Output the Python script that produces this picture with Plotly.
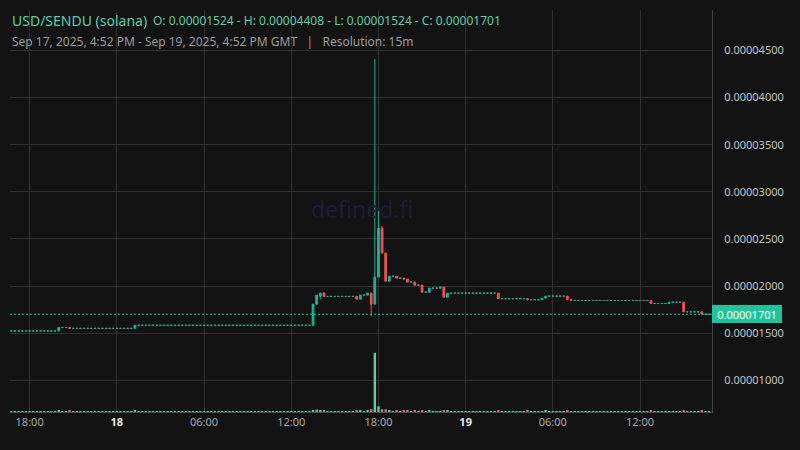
import pandas as pd
import plotly.graph_objects as go

# ---------------- data ----------------
# 15-minute candles, Sep 17 2025 16:45 GMT -> Sep 19 2025 16:45 GMT (193 bars)
times = pd.date_range("2025-09-17 16:45", "2025-09-19 16:45", freq="15min")

opens = [
    1.524e-5, 1.524e-5, 1.524e-5, 1.524e-5, 1.524e-5, 1.524e-5, 1.524e-5,
    1.524e-5, 1.524e-5, 1.524e-5, 1.524e-5, 1.524e-5, 1.524e-5, 1.524e-5,
    1.560e-5, 1.560e-5, 1.560e-5,
    1.551e-5, 1.551e-5, 1.551e-5, 1.551e-5, 1.551e-5, 1.551e-5, 1.551e-5, 1.551e-5, 1.551e-5,
    1.551e-5, 1.551e-5, 1.551e-5, 1.551e-5, 1.551e-5, 1.551e-5, 1.551e-5, 1.551e-5, 1.551e-5,
    1.584e-5, 1.584e-5, 1.584e-5, 1.584e-5, 1.584e-5, 1.584e-5, 1.584e-5,
    1.584e-5, 1.584e-5, 1.584e-5, 1.584e-5, 1.584e-5, 1.584e-5, 1.584e-5,
    1.584e-5, 1.584e-5, 1.584e-5, 1.584e-5, 1.584e-5, 1.584e-5, 1.584e-5,
    1.584e-5, 1.584e-5, 1.584e-5, 1.584e-5, 1.584e-5, 1.584e-5, 1.584e-5,
    1.584e-5, 1.584e-5, 1.584e-5, 1.584e-5, 1.584e-5, 1.584e-5, 1.584e-5,
    1.584e-5, 1.584e-5, 1.584e-5, 1.584e-5, 1.584e-5, 1.584e-5, 1.584e-5,
    1.584e-5, 1.584e-5, 1.584e-5, 1.584e-5, 1.584e-5, 1.584e-5, 1.584e-5,
    1.808e-5, 1.893e-5, 1.925e-5,
    1.890e-5, 1.890e-5, 1.890e-5, 1.890e-5, 1.890e-5, 1.890e-5, 1.890e-5, 1.890e-5, 1.890e-5,
    1.861e-5, 1.904e-5, 1.904e-5, 1.925e-5, 1.808e-5, 2.095e-5, 2.615e-5, 2.350e-5,
    2.052e-5, 2.105e-5, 2.105e-5, 2.084e-5, 2.084e-5, 2.074e-5, 2.042e-5, 2.042e-5,
    2.010e-5, 2.010e-5, 1.935e-5, 1.935e-5, 1.978e-5, 1.978e-5, 1.978e-5, 1.989e-5,
    1.882e-5,
    1.925e-5, 1.925e-5, 1.925e-5, 1.925e-5, 1.925e-5, 1.925e-5, 1.925e-5,
    1.925e-5, 1.925e-5, 1.925e-5, 1.925e-5, 1.925e-5, 1.925e-5, 1.925e-5,
    1.866e-5, 1.866e-5, 1.866e-5, 1.866e-5, 1.866e-5, 1.866e-5, 1.866e-5, 1.866e-5,
    1.855e-5, 1.855e-5, 1.855e-5, 1.855e-5,
    1.872e-5,
    1.893e-5, 1.893e-5, 1.893e-5, 1.893e-5, 1.893e-5, 1.893e-5,
    1.857e-5,
    1.847e-5, 1.847e-5, 1.847e-5, 1.847e-5, 1.847e-5, 1.847e-5, 1.847e-5, 1.847e-5, 1.847e-5, 1.847e-5, 1.847e-5,
    1.847e-5, 1.847e-5, 1.847e-5, 1.847e-5, 1.847e-5, 1.847e-5, 1.847e-5, 1.847e-5, 1.847e-5, 1.847e-5, 1.847e-5,
    1.815e-5, 1.815e-5, 1.815e-5, 1.815e-5, 1.815e-5,
    1.829e-5, 1.829e-5, 1.829e-5, 1.829e-5,
    1.727e-5, 1.727e-5, 1.727e-5, 1.727e-5, 1.727e-5,
    1.701e-5, 1.701e-5,
]

highs = [
    1.524e-5, 1.524e-5, 1.524e-5, 1.524e-5, 1.524e-5, 1.524e-5, 1.524e-5,
    1.524e-5, 1.524e-5, 1.524e-5, 1.524e-5, 1.524e-5, 1.524e-5,
    1.560e-5,
    1.560e-5, 1.560e-5, 1.560e-5,
    1.551e-5, 1.551e-5, 1.551e-5, 1.551e-5, 1.551e-5, 1.551e-5, 1.551e-5, 1.551e-5, 1.551e-5,
    1.551e-5, 1.551e-5, 1.551e-5, 1.551e-5, 1.551e-5, 1.551e-5, 1.551e-5, 1.551e-5,
    1.584e-5,
    1.584e-5, 1.584e-5, 1.584e-5, 1.584e-5, 1.584e-5, 1.584e-5, 1.584e-5, 1.584e-5,
    1.584e-5, 1.584e-5, 1.584e-5, 1.584e-5, 1.584e-5, 1.584e-5, 1.584e-5, 1.584e-5,
    1.584e-5, 1.584e-5, 1.584e-5, 1.584e-5, 1.584e-5, 1.584e-5, 1.584e-5, 1.584e-5,
    1.584e-5, 1.584e-5, 1.584e-5, 1.584e-5, 1.584e-5, 1.584e-5, 1.584e-5, 1.584e-5,
    1.584e-5, 1.584e-5, 1.584e-5, 1.584e-5, 1.584e-5, 1.584e-5, 1.584e-5, 1.584e-5,
    1.584e-5, 1.584e-5, 1.584e-5, 1.584e-5, 1.584e-5, 1.584e-5, 1.584e-5, 1.584e-5,
    1.808e-5, 1.904e-5, 1.925e-5, 1.935e-5,
    1.890e-5, 1.890e-5, 1.890e-5, 1.890e-5, 1.890e-5, 1.890e-5, 1.890e-5, 1.890e-5, 1.890e-5,
    1.904e-5, 1.904e-5, 1.925e-5, 1.925e-5, 4.408e-5, 2.796e-5, 2.636e-5, 2.350e-5,
    2.105e-5, 2.105e-5, 2.105e-5, 2.084e-5, 2.084e-5, 2.074e-5, 2.042e-5, 2.042e-5,
    2.010e-5, 2.010e-5, 1.935e-5, 1.978e-5, 1.978e-5, 1.978e-5, 1.989e-5, 1.989e-5,
    1.925e-5,
    1.925e-5, 1.925e-5, 1.925e-5, 1.925e-5, 1.925e-5, 1.925e-5, 1.925e-5,
    1.925e-5, 1.925e-5, 1.925e-5, 1.925e-5, 1.925e-5, 1.925e-5, 1.925e-5,
    1.866e-5, 1.866e-5, 1.866e-5, 1.866e-5, 1.866e-5, 1.866e-5, 1.866e-5, 1.866e-5,
    1.855e-5, 1.855e-5, 1.855e-5,
    1.872e-5, 1.893e-5,
    1.893e-5, 1.893e-5, 1.893e-5, 1.893e-5, 1.893e-5, 1.893e-5,
    1.857e-5,
    1.847e-5, 1.847e-5, 1.847e-5, 1.847e-5, 1.847e-5, 1.847e-5, 1.847e-5, 1.847e-5, 1.847e-5, 1.847e-5, 1.847e-5,
    1.847e-5, 1.847e-5, 1.847e-5, 1.847e-5, 1.847e-5, 1.847e-5, 1.847e-5, 1.847e-5, 1.847e-5, 1.847e-5, 1.847e-5,
    1.815e-5, 1.815e-5, 1.815e-5, 1.815e-5,
    1.829e-5,
    1.829e-5, 1.829e-5, 1.829e-5, 1.829e-5,
    1.727e-5, 1.727e-5, 1.727e-5, 1.727e-5, 1.727e-5,
    1.701e-5, 1.701e-5,
]

lows = [
    1.524e-5, 1.524e-5, 1.524e-5, 1.524e-5, 1.524e-5, 1.524e-5, 1.524e-5,
    1.524e-5, 1.524e-5, 1.524e-5, 1.524e-5, 1.524e-5, 1.524e-5,
    1.524e-5,
    1.560e-5, 1.560e-5,
    1.551e-5,
    1.551e-5, 1.551e-5, 1.551e-5, 1.551e-5, 1.551e-5, 1.551e-5, 1.551e-5, 1.551e-5, 1.551e-5,
    1.551e-5, 1.551e-5, 1.551e-5, 1.551e-5, 1.551e-5, 1.551e-5, 1.551e-5, 1.551e-5,
    1.551e-5,
    1.584e-5, 1.584e-5, 1.584e-5, 1.584e-5, 1.584e-5, 1.584e-5, 1.584e-5, 1.584e-5,
    1.584e-5, 1.584e-5, 1.584e-5, 1.584e-5, 1.584e-5, 1.584e-5, 1.584e-5, 1.584e-5,
    1.584e-5, 1.584e-5, 1.584e-5, 1.584e-5, 1.584e-5, 1.584e-5, 1.584e-5, 1.584e-5,
    1.584e-5, 1.584e-5, 1.584e-5, 1.584e-5, 1.584e-5, 1.584e-5, 1.584e-5, 1.584e-5,
    1.584e-5, 1.584e-5, 1.584e-5, 1.584e-5, 1.584e-5, 1.584e-5, 1.584e-5, 1.584e-5,
    1.584e-5, 1.584e-5, 1.584e-5, 1.584e-5, 1.584e-5, 1.584e-5, 1.584e-5, 1.584e-5,
    1.584e-5, 1.808e-5, 1.861e-5, 1.890e-5,
    1.890e-5, 1.890e-5, 1.890e-5, 1.890e-5, 1.890e-5, 1.890e-5, 1.890e-5, 1.890e-5,
    1.861e-5, 1.861e-5, 1.904e-5, 1.904e-5, 1.680e-5, 1.808e-5, 2.095e-5, 2.350e-5,
    2.052e-5, 2.052e-5, 2.105e-5, 2.084e-5, 2.084e-5, 2.074e-5, 2.042e-5, 2.042e-5,
    1.999e-5, 2.010e-5, 1.935e-5, 1.935e-5, 1.935e-5, 1.978e-5, 1.978e-5, 1.978e-5,
    1.882e-5, 1.882e-5,
    1.925e-5, 1.925e-5, 1.925e-5, 1.925e-5, 1.925e-5, 1.925e-5, 1.925e-5,
    1.925e-5, 1.925e-5, 1.925e-5, 1.925e-5, 1.925e-5, 1.925e-5,
    1.866e-5,
    1.866e-5, 1.866e-5, 1.866e-5, 1.866e-5, 1.866e-5, 1.866e-5, 1.866e-5,
    1.855e-5,
    1.855e-5, 1.855e-5, 1.855e-5,
    1.855e-5, 1.872e-5,
    1.893e-5, 1.893e-5, 1.893e-5, 1.893e-5, 1.893e-5,
    1.857e-5, 1.840e-5,
    1.847e-5, 1.847e-5, 1.847e-5, 1.847e-5, 1.847e-5, 1.847e-5, 1.847e-5,
    1.847e-5, 1.847e-5, 1.847e-5, 1.847e-5, 1.847e-5, 1.847e-5, 1.847e-5,
    1.847e-5, 1.847e-5, 1.847e-5, 1.847e-5, 1.847e-5, 1.847e-5, 1.847e-5,
    1.815e-5,
    1.815e-5, 1.815e-5, 1.815e-5, 1.815e-5,
    1.815e-5,
    1.829e-5, 1.829e-5, 1.829e-5,
    1.727e-5,
    1.727e-5, 1.727e-5, 1.727e-5, 1.727e-5,
    1.701e-5,
    1.701e-5, 1.701e-5,
]

closes = [
    1.524e-5, 1.524e-5, 1.524e-5, 1.524e-5, 1.524e-5, 1.524e-5, 1.524e-5,
    1.524e-5, 1.524e-5, 1.524e-5, 1.524e-5, 1.524e-5, 1.524e-5,
    1.560e-5, 1.560e-5, 1.560e-5,
    1.551e-5, 1.551e-5, 1.551e-5, 1.551e-5, 1.551e-5, 1.551e-5, 1.551e-5, 1.551e-5, 1.551e-5,
    1.551e-5, 1.551e-5, 1.551e-5, 1.551e-5, 1.551e-5, 1.551e-5, 1.551e-5, 1.551e-5, 1.551e-5,
    1.584e-5, 1.584e-5, 1.584e-5, 1.584e-5, 1.584e-5, 1.584e-5, 1.584e-5,
    1.584e-5, 1.584e-5, 1.584e-5, 1.584e-5, 1.584e-5, 1.584e-5, 1.584e-5,
    1.584e-5, 1.584e-5, 1.584e-5, 1.584e-5, 1.584e-5, 1.584e-5, 1.584e-5,
    1.584e-5, 1.584e-5, 1.584e-5, 1.584e-5, 1.584e-5, 1.584e-5, 1.584e-5,
    1.584e-5, 1.584e-5, 1.584e-5, 1.584e-5, 1.584e-5, 1.584e-5, 1.584e-5,
    1.584e-5, 1.584e-5, 1.584e-5, 1.584e-5, 1.584e-5, 1.584e-5, 1.584e-5,
    1.584e-5, 1.584e-5, 1.584e-5, 1.584e-5, 1.584e-5, 1.584e-5, 1.584e-5,
    1.808e-5, 1.904e-5, 1.925e-5,
    1.890e-5, 1.890e-5, 1.890e-5, 1.890e-5, 1.890e-5, 1.890e-5, 1.890e-5, 1.890e-5, 1.890e-5,
    1.861e-5, 1.904e-5, 1.904e-5, 1.925e-5, 1.808e-5, 2.095e-5, 2.615e-5, 2.350e-5,
    2.052e-5, 2.105e-5, 2.105e-5, 2.084e-5, 2.084e-5, 2.074e-5, 2.042e-5, 2.042e-5,
    2.010e-5, 2.010e-5, 1.935e-5, 1.935e-5, 1.978e-5, 1.978e-5, 1.978e-5, 1.989e-5,
    1.882e-5,
    1.925e-5, 1.925e-5, 1.925e-5, 1.925e-5, 1.925e-5, 1.925e-5, 1.925e-5,
    1.925e-5, 1.925e-5, 1.925e-5, 1.925e-5, 1.925e-5, 1.925e-5, 1.925e-5,
    1.866e-5, 1.866e-5, 1.866e-5, 1.866e-5, 1.866e-5, 1.866e-5, 1.866e-5, 1.866e-5,
    1.855e-5, 1.855e-5, 1.855e-5, 1.855e-5,
    1.872e-5,
    1.893e-5, 1.893e-5, 1.893e-5, 1.893e-5, 1.893e-5, 1.893e-5,
    1.857e-5,
    1.847e-5, 1.847e-5, 1.847e-5, 1.847e-5, 1.847e-5, 1.847e-5, 1.847e-5, 1.847e-5, 1.847e-5, 1.847e-5, 1.847e-5,
    1.847e-5, 1.847e-5, 1.847e-5, 1.847e-5, 1.847e-5, 1.847e-5, 1.847e-5, 1.847e-5, 1.847e-5, 1.847e-5, 1.847e-5,
    1.815e-5, 1.815e-5, 1.815e-5, 1.815e-5, 1.815e-5,
    1.829e-5, 1.829e-5, 1.829e-5, 1.829e-5,
    1.727e-5, 1.727e-5, 1.727e-5, 1.727e-5, 1.727e-5,
    1.701e-5, 1.701e-5, 1.701e-5,
]

volumes = [
    1.6, 1.6, 1.6, 1.6, 1.6, 1.6, 1.6, 1.6, 1.6, 1.6, 1.6, 1.6, 1.6,
    2.6, 1.6, 1.6, 1.8,
    1.6, 1.6, 1.6, 1.6, 1.6, 1.6, 1.6, 1.6, 1.6, 1.6, 1.6, 1.6, 1.6, 1.6, 1.6, 1.6, 1.6,
    2.2,
    1.6, 1.6, 1.6, 1.6, 1.6, 1.6, 1.6, 1.6, 1.6, 1.6, 1.6, 1.6,
    1.6, 1.6, 1.6, 1.6, 1.6, 1.6, 1.6, 1.6, 1.6, 1.6, 1.6, 1.6,
    1.6, 1.6, 1.6, 1.6, 1.6, 1.6, 1.6, 1.6, 1.6, 1.6, 1.6, 1.6,
    1.6, 1.6, 1.6, 1.6, 1.6, 1.6, 1.6, 1.6, 1.6, 1.6, 1.6, 1.6,
    3.4, 4.2, 3.6, 1.8,
    1.6, 1.6, 1.6, 1.6, 1.6, 1.6, 1.6, 1.6,
    1.8, 1.8, 1.6, 1.8, 4.6, 100.0, 9.6, 4.6, 4.6,
    1.8, 1.6, 1.8, 1.6, 1.8, 1.8, 1.6, 1.8, 1.6, 2.0, 1.6, 1.8, 1.6, 1.6, 1.6, 3.4, 1.8,
    1.6, 1.6, 1.6, 1.6, 1.6, 1.6, 1.6, 1.6, 1.6, 1.6, 1.6, 1.6, 1.6,
    1.8, 1.6, 1.6, 1.6, 1.6, 1.6, 1.6, 1.6,
    1.8, 1.6, 1.6, 1.6,
    1.6, 1.8, 1.6, 1.6, 1.6, 1.6, 1.6,
    1.8, 1.6,
    1.6, 1.6, 1.6, 1.6, 1.6, 1.6, 1.6, 1.6, 1.6, 1.6, 1.6,
    1.6, 1.6, 1.6, 1.6, 1.6, 1.6, 1.6, 1.6, 1.6, 1.6,
    1.8, 1.6, 1.6, 1.6, 1.6,
    1.6, 1.6, 1.6, 1.6,
    1.8, 1.6, 1.6, 1.6, 1.6,
    1.8, 1.6, 1.6,
]

for name, arr in [("opens", opens), ("highs", highs), ("lows", lows),
                  ("closes", closes), ("volumes", volumes)]:
    assert len(arr) == len(times), (name, len(arr), len(times))

price_ticks = [1.0e-5, 1.5e-5, 2.0e-5, 2.5e-5, 3.0e-5, 3.5e-5, 4.0e-5, 4.5e-5]
time_ticks = ["2025-09-17 18:00", "2025-09-18 00:00", "2025-09-18 06:00", "2025-09-18 12:00",
              "2025-09-18 18:00", "2025-09-19 00:00", "2025-09-19 06:00", "2025-09-19 12:00"]
time_tick_text = ["18:00", "<span style='color:#e8e8e8'><b>18</b></span>", "06:00", "12:00",
                  "18:00", "<span style='color:#e8e8e8'><b>19</b></span>", "06:00", "12:00"]
last_price = closes[-1]

# ---------------- style ----------------
BG = "#131313"
GRID = "#303030"
TEAL = "#1fb394"
RED = "#ef5358"
VOL_TEAL = "#52d3ab"
VOL_RED = "#e0717c"
FONT = "Noto Sans"

flat_idx = [i for i in range(len(times)) if opens[i] == closes[i]]
move_idx = [i for i in range(len(times)) if opens[i] != closes[i]]

def pick(arr, idx):
    return [arr[i] for i in idx]

vol_colors = [VOL_TEAL if closes[i] >= opens[i] else VOL_RED for i in range(len(times))]

fig = go.Figure()
fig.add_trace(go.Bar(x=times, y=volumes, yaxis="y2", marker=dict(color=vol_colors, line=dict(width=0)),
                     showlegend=False, hoverinfo="skip"))
fig.add_trace(go.Candlestick(
    x=pick(times, flat_idx), open=pick(opens, flat_idx), high=pick(highs, flat_idx),
    low=pick(lows, flat_idx), close=pick(closes, flat_idx),
    increasing=dict(line=dict(color=TEAL, width=1), fillcolor=TEAL),
    decreasing=dict(line=dict(color=TEAL, width=1), fillcolor=TEAL),
    whiskerwidth=0, showlegend=False, hoverinfo="skip"))
fig.add_trace(go.Candlestick(
    x=pick(times, move_idx), open=pick(opens, move_idx), high=pick(highs, move_idx),
    low=pick(lows, move_idx), close=pick(closes, move_idx),
    increasing=dict(line=dict(color=TEAL, width=1), fillcolor=TEAL),
    decreasing=dict(line=dict(color=RED, width=1), fillcolor=RED),
    whiskerwidth=0, showlegend=False, hoverinfo="skip"))

fig.update_layout(
    width=800, height=450,
    margin=dict(l=10, r=88, t=10, b=38),
    paper_bgcolor=BG, plot_bgcolor=BG,
    font=dict(family=FONT, color="#b4b4b4", size=11),
    boxgap=0.3, bargap=0.35,
    showlegend=False, hovermode=False,
    xaxis=dict(
        type="date", range=["2025-09-17 16:39", "2025-09-19 16:57"],
        rangeslider=dict(visible=False),
        tickvals=time_ticks, ticktext=time_tick_text,
        showgrid=True, gridcolor=GRID, gridwidth=1,
        showline=True, linecolor="#4a4a4a", linewidth=1,
        ticks="", zeroline=False,
        tickfont=dict(size=11, color="#a8a8a8", family=FONT),
    ),
    yaxis=dict(
        side="right", range=[6.64e-6, 4.9286e-5],
        tickvals=price_ticks, tickformat=".8f",
        showgrid=True, gridcolor=GRID, gridwidth=1,
        showline=True, linecolor="#444444", linewidth=1,
        ticks="", ticklabelstandoff=9, zeroline=False,
        tickfont=dict(size=11, color="#c4c4c4", family=FONT),
    ),
    yaxis2=dict(overlaying="y", range=[0, 680], visible=False, showgrid=False),
)

# header background panel covering the gridlines
fig.add_shape(type="rect", xref="paper", yref="paper",
              x0=-0.02, x1=(512 - 10) / 702, y0=(412 - 52) / 402, y1=1.05,
              fillcolor=BG, line=dict(width=0), layer="between")

# last price dotted line
fig.add_shape(type="line", xref="paper", yref="y", x0=0, x1=1, y0=last_price, y1=last_price,
              line=dict(color="#1fc49c", width=1, dash="2px,2px"))

# last price label on axis
fig.add_annotation(xref="paper", yref="y", x=1, y=last_price, xanchor="left", yanchor="middle",
                   text=f"{last_price:.8f}", showarrow=False,
                   font=dict(size=11, color="#ffffff", family=FONT),
                   bgcolor="#1fc49c", bordercolor="#1fc49c", borderwidth=1, borderpad=1,
                   width=66, height=14, align="center")

# watermark
fig.add_annotation(xref="paper", yref="paper", x=(361.5 - 10) / 702, y=(412 - 209) / 402,
                   text="defined.fi", showarrow=False,
                   font=dict(size=23, color="#1d1d37", family=FONT))

# header lines
fig.add_annotation(xref="paper", yref="paper", x=0, y=(412 - 20) / 402, xanchor="left", yanchor="middle",
                   text="USD/SENDU (solana)", showarrow=False,
                   font=dict(size=14, color="#5fcfa9", family=FONT))
fig.add_annotation(xref="paper", yref="paper", x=0, xshift=141, y=(412 - 20) / 402,
                   xanchor="left", yanchor="middle",
                   text="O: 0.00001524 - H: 0.00004408 - L: 0.00001524 - C: 0.00001701", showarrow=False,
                   font=dict(size=12, color="#5fcfa9", family=FONT))
fig.add_annotation(xref="paper", yref="paper", x=0, y=(412 - 41) / 402, xanchor="left", yanchor="middle",
                   text="Sep 17, 2025, 4:52 PM - Sep 19, 2025, 4:52 PM GMT\u00a0\u00a0\u00a0|\u00a0\u00a0\u00a0Resolution: 15m",
                   showarrow=False, font=dict(size=12, color="#9c9c9c", family=FONT))

fig.write_html("out.html", config={"displayModeBar": False},
               post_script="document.body.style.margin='0px';document.body.style.background='#131313';")
